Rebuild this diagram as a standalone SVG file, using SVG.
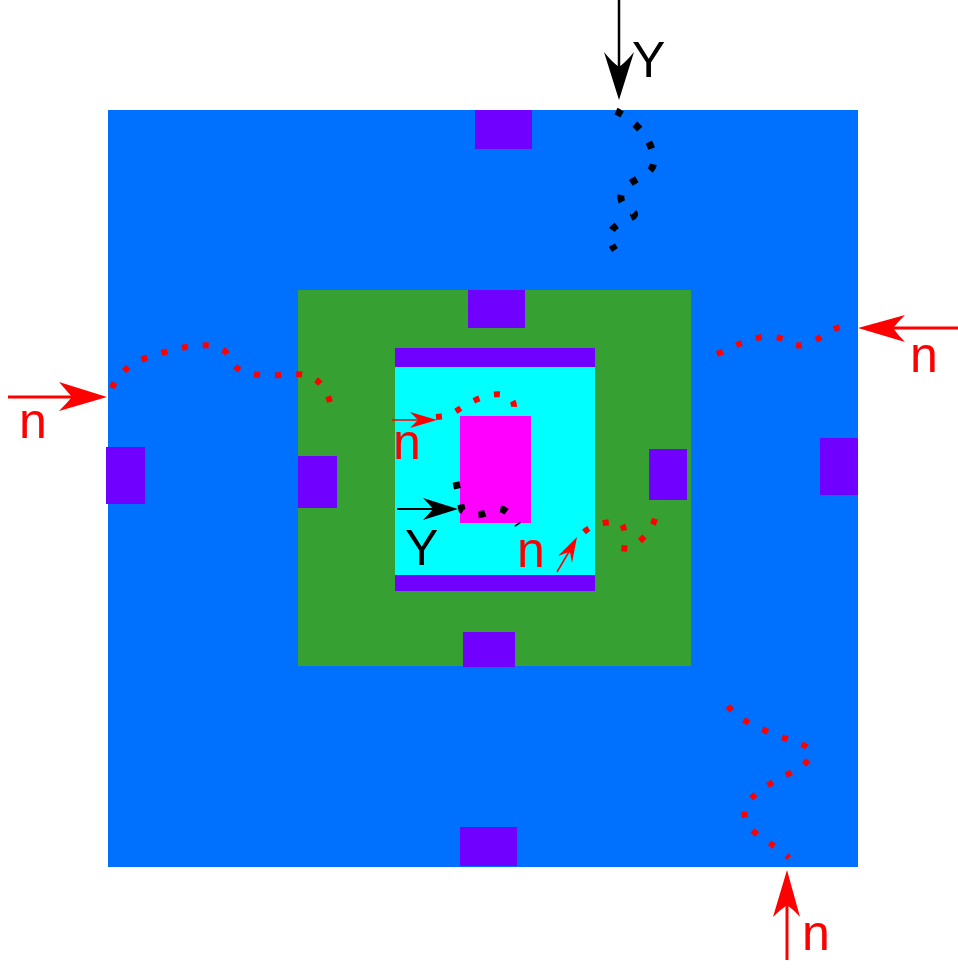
<svg xmlns="http://www.w3.org/2000/svg" width="958" height="968" viewBox="0 0 958 968">
<style>
.pad{fill:#7000ff}
.lbl{font-family:"Liberation Sans",Arial,sans-serif;font-size:50px}
.red{fill:#ff0000}
.blk{fill:#000}
.dr{fill:none;stroke:#ff0000;stroke-width:6;stroke-dasharray:6 15}
.db{fill:none;stroke:#000;stroke-width:7;stroke-dasharray:7 16}
</style>
<rect width="958" height="968" fill="#fff"/>
<g id="outer">
<rect x="108" y="110" width="750" height="757" fill="#0070ff"/>
<rect class="pad" x="475" y="110" width="57" height="39"/>
<rect class="pad" x="460" y="827" width="57" height="39"/>
<rect class="pad" x="106" y="447" width="39" height="57"/>
<rect class="pad" x="820" y="438" width="38" height="57"/>
</g>
<g id="middle">
<rect x="298" y="290" width="393" height="376" fill="#36a033"/>
<rect class="pad" x="468" y="290" width="57" height="38"/>
<rect class="pad" x="463" y="632" width="52" height="35"/>
<rect class="pad" x="298" y="456" width="39" height="52"/>
<rect class="pad" x="649" y="449" width="38" height="51"/>
</g>
<g id="inner">
<rect x="395" y="348" width="200" height="243" fill="#00ffff"/>
<rect class="pad" x="395" y="348" width="200" height="19"/>
<rect class="pad" x="395" y="575" width="200" height="16"/>
</g>
<g id="core">
<rect x="460" y="416" width="71" height="107" fill="#ff00ff"/>
</g>
<g id="connectors">
<line x1="619" y1="0" x2="619" y2="70" stroke="#000" stroke-width="2.5"/>
<path class="blk" d="M619,100 L604,52 Q612,62 619,67 Q626,62 634,52 Z"/>
<line x1="8" y1="397" x2="75" y2="397" stroke="#ff0000" stroke-width="3"/>
<path class="red" d="M107,397 L59,382 Q66,390 72,397 Q66,404 59,411 Z"/>
<line x1="958" y1="328" x2="890" y2="328" stroke="#ff0000" stroke-width="3"/>
<path class="red" d="M858,328 L905,315 Q898,322 893,328 Q898,335 905,342 Z"/>
<line x1="787" y1="960" x2="787" y2="903" stroke="#ff0000" stroke-width="3"/>
<path class="red" d="M787,870 L773,917 Q780,910 787,905 Q794,910 800,917 Z"/>
<line x1="392" y1="420" x2="420" y2="420" stroke="#ff0000" stroke-width="1.5"/>
<path class="red" d="M437,420 L410,412 Q414,416 418,420 Q414,424 410,428 Z"/>
<line x1="397" y1="509" x2="435" y2="509" stroke="#000" stroke-width="2"/>
<path class="blk" d="M458,509 L423,498 Q429,504 433,509 Q429,514 423,520 Z"/>
<line x1="557" y1="572" x2="570" y2="550" stroke="#ff0000" stroke-width="1.5"/>
<path class="red" d="M577,537 L558,556 Q565,553 570,552 Q571,557 572,563 Z"/>
<path class="db" d="M616,111 C630,118 652,135 654,160 C655,178 625,178 621,195 C618,210 645,212 630,218 C615,225 602,232 615,250"/>
<path class="dr" d="M112,388 C120,368 140,358 165,352 C190,345 220,340 228,355 C233,372 250,377 283,375 C305,372 322,375 330,402"/>
<path class="dr" d="M717,354 C735,346 750,338 768,336 C785,336 790,348 805,345 C820,340 830,328 847,325"/>
<path class="dr" d="M436,417 L447,416 C460,410 470,400 490,395 C505,392 515,398 514,408"/>
<path class="db" d="M456,482 L462,510 C470,515 480,517 490,511 C500,505 508,510 518,525"/>
<path class="dr" d="M584,532 C592,525 605,521 620,522 C628,530 624,545 623,565"/>
<path class="dr" d="M640,541 C652,530 656,520 656,511"/>
<path class="dr" d="M728,706 C738,720 760,728 775,735 C795,742 815,745 810,758 C800,772 775,778 762,790 C745,800 738,815 752,830 C765,842 780,848 789,858"/>
</g>
<g id="labels">
<text class="lbl blk" x="632" y="77">Y</text>
<text class="lbl red" x="19" y="438">n</text>
<text class="lbl red" x="910" y="372">n</text>
<text class="lbl red" x="802" y="950">n</text>
<text class="lbl red" x="393" y="459">n</text>
<text class="lbl blk" x="405" y="565">Y</text>
<text class="lbl red" x="517" y="567">n</text>
</g>
</svg>
